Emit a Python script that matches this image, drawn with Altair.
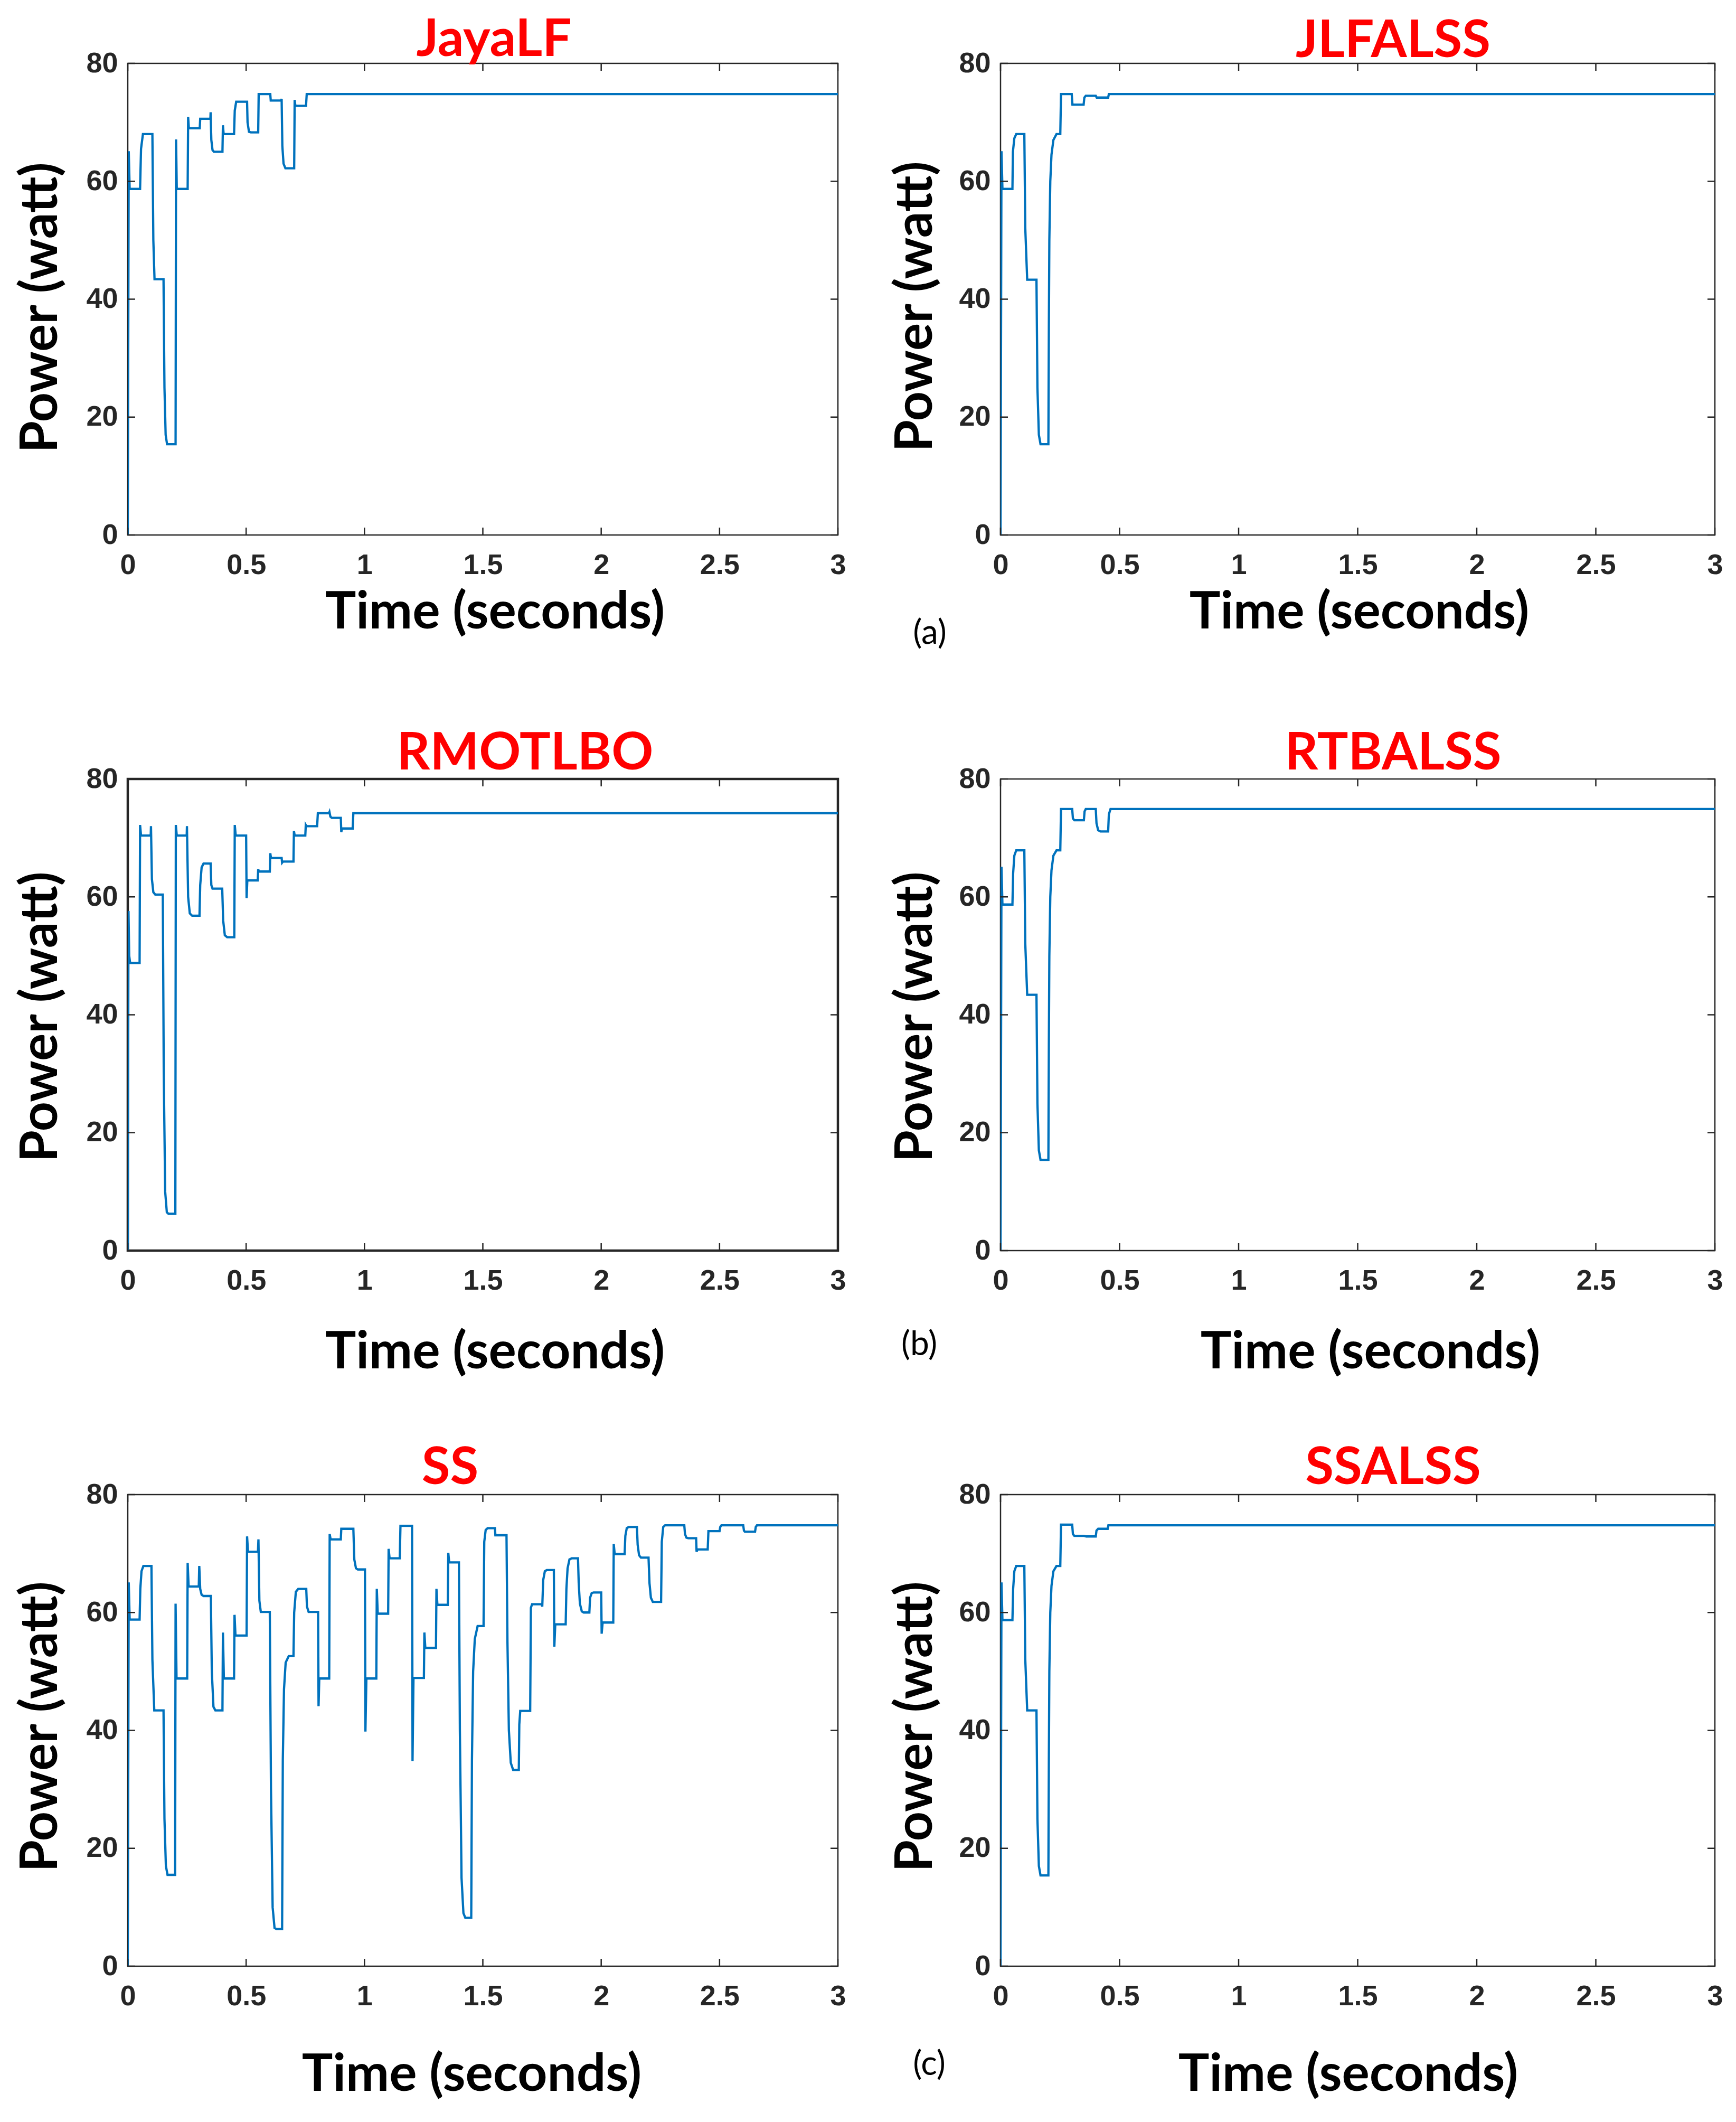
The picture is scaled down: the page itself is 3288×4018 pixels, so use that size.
import altair as alt
import pandas as pd

# ---------------- data ----------------
X_TICKS = [0, 0.5, 1, 1.5, 2, 2.5, 3]
Y_TICKS = [0, 20, 40, 60, 80]

TITLES = ["JayaLF", "JLFALSS", "RMOTLBO", "RTBALSS", "SS", "SSALSS"]
ROW_LABELS = ["(a)", "(b)", "(c)"]

JAYA_T = [0.000, 0.004, 0.008, 0.052, 0.056, 0.064, 0.104, 0.108, 0.113, 0.151, 0.155, 0.160,
          0.166, 0.202, 0.204, 0.207, 0.253, 0.255, 0.258, 0.304, 0.306, 0.349, 0.350, 0.353,
          0.358, 0.364, 0.400, 0.402, 0.405, 0.449, 0.452, 0.458, 0.504, 0.506, 0.512, 0.520,
          0.551, 0.553, 0.602, 0.604, 0.649, 0.650, 0.653, 0.658, 0.666, 0.703, 0.705, 0.708,
          0.753, 0.756, 3.000]
JAYA_P = [0.0, 65.1, 58.7, 58.7, 65.5, 68.0, 68.0, 50.0, 43.4, 43.4, 25.0, 17.0,
          15.4, 15.4, 67.1, 58.7, 58.7, 70.9, 69.0, 69.0, 70.6, 70.6, 71.7, 67.0,
          65.3, 65.0, 65.0, 69.5, 68.0, 68.0, 72.0, 73.5, 73.5, 70.0, 68.4, 68.3,
          68.3, 74.8, 74.8, 73.7, 73.7, 74.0, 66.0, 63.0, 62.2, 62.2, 73.8, 72.8,
          72.8, 74.8, 74.8]

JLF_T = [0.000, 0.004, 0.008, 0.050, 0.052, 0.058, 0.066, 0.100, 0.104, 0.112, 0.151, 0.155,
         0.161, 0.168, 0.201, 0.203, 0.205, 0.209, 0.214, 0.222, 0.235, 0.251, 0.254, 0.299,
         0.302, 0.349, 0.352, 0.358, 0.400, 0.404, 0.452, 0.455, 3.000]
JLF_P = [0.0, 65.1, 58.7, 58.7, 65.0, 67.3, 68.0, 68.0, 52.0, 43.3, 43.3, 25.0,
         17.0, 15.4, 15.4, 35.0, 50.0, 60.0, 64.5, 67.0, 68.0, 68.0, 74.8, 74.8,
         73.0, 73.0, 74.2, 74.5, 74.5, 74.2, 74.2, 74.8, 74.8]

RMO_T = [0.000, 0.003, 0.006, 0.010, 0.050, 0.052, 0.056, 0.097, 0.098, 0.102, 0.108, 0.116,
         0.148, 0.152, 0.158, 0.165, 0.172, 0.201, 0.203, 0.207, 0.249, 0.250, 0.255, 0.262,
         0.272, 0.303, 0.306, 0.312, 0.320, 0.350, 0.353, 0.358, 0.399, 0.403, 0.410, 0.420,
         0.450, 0.452, 0.456, 0.500, 0.502, 0.505, 0.549, 0.551, 0.554, 0.600, 0.602, 0.605,
         0.650, 0.652, 0.656, 0.700, 0.702, 0.705, 0.750, 0.752, 0.755, 0.800, 0.803, 0.850,
         0.852, 0.856, 0.862, 0.900, 0.902, 0.905, 0.950, 0.953, 3.000]
RMO_P = [0.0, 57.6, 50.0, 48.8, 48.8, 72.2, 70.4, 70.4, 72.0, 63.0, 60.8, 60.4,
         60.4, 30.0, 10.0, 6.5, 6.25, 6.25, 72.2, 70.4, 70.4, 72.0, 60.0, 57.2,
         56.8, 56.8, 62.0, 65.0, 65.65, 65.65, 62.0, 61.4, 61.4, 56.0, 53.5, 53.15,
         53.15, 72.2, 70.4, 70.4, 59.8, 62.8, 62.8, 64.7, 64.3, 64.3, 67.4, 66.6,
         66.6, 65.8, 66.0, 66.0, 71.2, 70.4, 70.4, 72.2, 72.0, 72.0, 74.2, 74.2,
         74.4, 73.6, 73.4, 73.4, 71.0, 71.6, 71.6, 74.2, 74.2]

RTB_T = [0.000, 0.004, 0.008, 0.050, 0.053, 0.058, 0.066, 0.100, 0.104, 0.112, 0.151, 0.155,
         0.161, 0.168, 0.201, 0.203, 0.205, 0.209, 0.214, 0.222, 0.235, 0.251, 0.254, 0.301,
         0.304, 0.310, 0.350, 0.353, 0.358, 0.400, 0.403, 0.410, 0.420, 0.452, 0.455, 0.462,
         3.000]
RTB_P = [0.0, 65.1, 58.7, 58.7, 64.0, 67.0, 67.9, 67.9, 52.0, 43.4, 43.4, 25.0,
         17.0, 15.4, 15.4, 35.0, 50.0, 60.0, 64.5, 67.0, 67.9, 67.9, 74.9, 74.9,
         73.3, 73.0, 73.0, 74.5, 74.9, 74.9, 72.5, 71.3, 71.1, 71.1, 74.0, 74.9,
         74.9]

SS_T = [0.000, 0.004, 0.008, 0.050, 0.053, 0.058, 0.066, 0.100, 0.104, 0.112, 0.151, 0.155,
        0.161, 0.168, 0.200, 0.202, 0.206, 0.251, 0.253, 0.257, 0.300, 0.302, 0.306, 0.312,
        0.320, 0.351, 0.355, 0.362, 0.370, 0.400, 0.402, 0.406, 0.449, 0.451, 0.455, 0.502,
        0.504, 0.508, 0.550, 0.552, 0.556, 0.562, 0.600, 0.605, 0.612, 0.620, 0.628, 0.652,
        0.655, 0.660, 0.667, 0.680, 0.700, 0.703, 0.710, 0.720, 0.754, 0.757, 0.764, 0.804,
        0.806, 0.809, 0.851, 0.853, 0.857, 0.900, 0.902, 0.953, 0.957, 0.964, 0.972, 1.002,
        1.004, 1.008, 1.050, 1.052, 1.056, 1.100, 1.102, 1.106, 1.149, 1.152, 1.201, 1.203,
        1.207, 1.251, 1.253, 1.257, 1.302, 1.304, 1.308, 1.352, 1.354, 1.358, 1.399, 1.403,
        1.410, 1.418, 1.426, 1.451, 1.454, 1.459, 1.466, 1.478, 1.503, 1.506, 1.512, 1.520,
        1.551, 1.553, 1.600, 1.604, 1.610, 1.618, 1.628, 1.652, 1.654, 1.658, 1.700, 1.703,
        1.708, 1.749, 1.751, 1.755, 1.762, 1.770, 1.800, 1.802, 1.806, 1.850, 1.853, 1.858,
        1.866, 1.876, 1.902, 1.905, 1.910, 1.918, 1.926, 1.950, 1.953, 1.960, 1.968, 2.000,
        2.002, 2.006, 2.051, 2.053, 2.057, 2.099, 2.102, 2.108, 2.116, 2.151, 2.154, 2.160,
        2.168, 2.200, 2.204, 2.210, 2.218, 2.253, 2.256, 2.262, 2.270, 2.351, 2.354, 2.360,
        2.368, 2.401, 2.403, 2.407, 2.450, 2.453, 2.500, 2.503, 2.508, 2.600, 2.603, 2.607,
        2.650, 2.653, 2.658, 3.000]
SS_P = [0.0, 65.1, 58.8, 58.8, 64.0, 67.0, 67.9, 67.9, 52.0, 43.4, 43.4, 25.0,
        17.0, 15.5, 15.5, 61.5, 48.8, 48.8, 68.4, 64.4, 64.4, 67.9, 64.0, 63.0,
        62.8, 62.8, 50.0, 44.0, 43.4, 43.4, 56.6, 48.8, 48.8, 59.6, 56.1, 56.1,
        72.9, 70.3, 70.3, 72.4, 62.0, 60.1, 60.1, 30.0, 10.0, 6.5, 6.3, 6.3,
        35.0, 47.0, 51.5, 52.6, 52.6, 60.0, 63.5, 64.0, 64.0, 61.0, 60.1, 60.1,
        44.1, 48.8, 48.8, 73.3, 72.4, 72.4, 74.2, 74.2, 69.0, 67.5, 67.3, 67.3,
        39.8, 48.8, 48.8, 64.0, 59.8, 59.8, 70.8, 69.2, 69.2, 74.7, 74.7, 34.8,
        48.9, 48.9, 56.6, 54.0, 54.0, 64.0, 61.3, 61.3, 70.1, 68.5, 68.5, 40.0,
        15.0, 9.0, 8.2, 8.2, 35.0, 50.0, 55.5, 57.7, 57.7, 72.0, 74.0, 74.3,
        74.3, 73.1, 73.1, 55.0, 40.0, 34.5, 33.3, 33.3, 41.0, 43.3, 43.3, 60.8,
        61.4, 61.4, 61.0, 65.5, 67.0, 67.2, 67.2, 54.2, 58.0, 58.0, 64.0, 67.5,
        69.0, 69.2, 69.2, 65.0, 61.5, 60.2, 60.0, 60.0, 62.5, 63.3, 63.4, 63.4,
        56.4, 58.3, 58.3, 71.6, 69.9, 69.9, 73.0, 74.3, 74.5, 74.5, 71.5, 69.7,
        69.3, 69.3, 65.0, 62.5, 61.8, 61.8, 72.0, 74.5, 74.8, 74.8, 73.3, 72.7,
        72.6, 72.6, 70.3, 70.7, 70.7, 73.8, 73.8, 74.5, 74.8, 74.8, 73.9, 73.7,
        73.7, 74.5, 74.8, 74.8]

SSA_T = [0.000, 0.004, 0.008, 0.050, 0.053, 0.058, 0.066, 0.100, 0.104, 0.112, 0.151, 0.155,
         0.161, 0.168, 0.201, 0.203, 0.205, 0.209, 0.214, 0.222, 0.235, 0.251, 0.254, 0.301,
         0.304, 0.310, 0.350, 0.360, 0.400, 0.403, 0.410, 0.450, 0.453, 3.000]
SSA_P = [0.0, 65.1, 58.7, 58.7, 64.0, 67.0, 67.9, 67.9, 52.0, 43.4, 43.4, 25.0,
         17.0, 15.4, 15.4, 35.0, 50.0, 60.0, 64.5, 67.0, 67.9, 67.9, 74.9, 74.9,
         73.3, 73.0, 73.0, 72.9, 72.9, 73.9, 74.2, 74.2, 74.8, 74.8]

SERIES = [(JAYA_T, JAYA_P), (JLF_T, JLF_P), (RMO_T, RMO_P),
          (RTB_T, RTB_P), (SS_T, SS_P), (SSA_T, SSA_P)]

# ---------------- layout / style ----------------
W_L, W_R, H = 1345, 1353, 893
TICK_LEN = 14
INK = "#262626"
LINE_BLUE = "#0072BD"
TITLE_SHIFT = 126

# per-panel placement tweaks
PANEL_STYLE = [
    dict(tdx=21, toff=15, xtx=695, xty=176, ytx=-164, yty=462, box=2.5),
    dict(tdx=67, toff=13, xtx=679, xty=176, ytx=-160, yty=460, box=2.5),
    dict(tdx=80, toff=19, xtx=695, xty=222, ytx=-164, yty=450, box=4.5),
    dict(tdx=67, toff=19, xtx=700, xty=222, ytx=-160, yty=450, box=2.5),
    dict(tdx=-62, toff=21, xtx=651, xty=235, ytx=-164, yty=439, box=2.5),
    dict(tdx=67, toff=21, xtx=658, xty=235, ytx=-160, yty=439, box=2.5),
]
ROW_LABEL_POS = [(1519, 1080), (1499, 1072), (1518, 1080)]

xscale = alt.Scale(domain=[0, 3], nice=False, zero=False)
yscale = alt.Scale(domain=[0, 80], nice=False, zero=False)

xt_df = pd.DataFrame({"t": X_TICKS})
yt_df = pd.DataFrame({"p": Y_TICKS})


def panel(i):
    t, p = SERIES[i]
    st = PANEL_STYLE[i]
    w = W_L if i % 2 == 0 else W_R
    df = pd.DataFrame({"t": t, "p": p})

    xaxis = alt.Axis(values=X_TICKS, format="~g", title="Time (seconds)",
                     grid=False, domain=False, ticks=False, tickSize=0,
                     labelFlush=False, labelOverlap=False, labelPadding=30,
                     titleX=st["xtx"], titleY=st["xty"], titleBaseline="alphabetic",
                     titleAlign="center")
    yaxis = alt.Axis(values=Y_TICKS, title="Power (watt)",
                     grid=False, domain=False, ticks=False, tickSize=0,
                     labelFlush=False, labelOverlap=False, labelPadding=19,
                     titleX=st["ytx"], titleY=st["yty"], titleAngle=270,
                     titleBaseline="middle", titleAlign="center")

    line = alt.Chart(df).mark_line(color=LINE_BLUE, strokeWidth=4.3, clip=True).encode(
        x=alt.X("t:Q", scale=xscale, axis=xaxis),
        y=alt.Y("p:Q", scale=yscale, axis=yaxis),
    )
    tick_kw = dict(color=INK, strokeWidth=2.5)
    yl = alt.Chart(yt_df).mark_rule(**tick_kw).encode(
        y=alt.Y("p:Q", scale=yscale), x=alt.value(0), x2=alt.value(TICK_LEN))
    yr = alt.Chart(yt_df).mark_rule(**tick_kw).encode(
        y=alt.Y("p:Q", scale=yscale), x=alt.value(w - TICK_LEN), x2=alt.value(w))
    xb = alt.Chart(xt_df).mark_rule(**tick_kw).encode(
        x=alt.X("t:Q", scale=xscale), y=alt.value(H - TICK_LEN), y2=alt.value(H))
    xtp = alt.Chart(xt_df).mark_rule(**tick_kw).encode(
        x=alt.X("t:Q", scale=xscale), y=alt.value(0), y2=alt.value(TICK_LEN))
    layers = [line, yl, yr, xb, xtp]

    if i % 2 == 0:
        r = i // 2
        lx, ly = ROW_LABEL_POS[r]
        lab = alt.Chart(pd.DataFrame({"label": [ROW_LABELS[r]]})).mark_text(
            font="Lato", fontSize=64, color="black", align="center", baseline="middle"
        ).encode(text="label:N", x=alt.value(lx), y=alt.value(ly))
        layers.append(lab)

    return alt.layer(*layers).properties(
        width=w, height=H,
        view=alt.ViewBackground(stroke=INK, strokeWidth=st["box"]),
        title=alt.TitleParams(TITLES[i], color="#FF0000", font="Lato", fontWeight="bold",
                              fontSize=98, anchor="middle", dx=st["tdx"], offset=st["toff"],
                              dy=TITLE_SHIFT, frame="group", baseline="alphabetic"),
    )


chart = alt.concat(*[panel(i) for i in range(6)], columns=2,
                   spacing={"row": 462, "column": 300}, bounds="flush", align="all"
                   ).properties(
    padding={"left": 18, "top": 18, "right": 5, "bottom": 5},
    background="white",
).configure_axis(
    labelFont="Liberation Sans", labelFontWeight="bold", labelFontSize=54, labelColor=INK,
    titleFont="Lato", titleFontWeight="bold", titleFontSize=98, titleColor="black",
).configure_view(stroke=INK, strokeWidth=2.5)

chart.save("out.html", embed_options={"renderer": "svg", "actions": False})
